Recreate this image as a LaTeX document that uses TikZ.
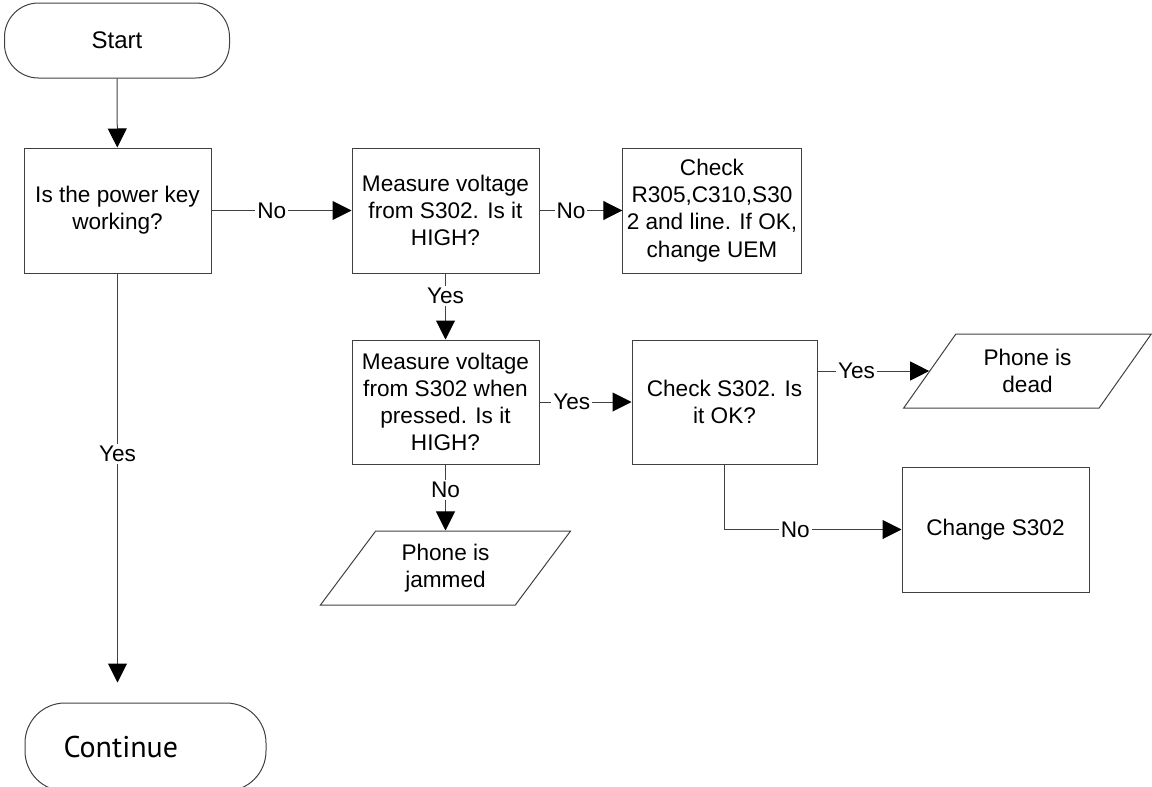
\documentclass[tikz,border=0pt]{standalone}
\usepackage{fontspec}
\setmainfont{Liberation Sans}
\newfontfamily\endfont{PT Sans}
\usetikzlibrary{arrows.meta}
\usetikzlibrary{shapes.geometric}

\tikzset{
    box/.style={
        rectangle, align=center, inner sep=2pt,
        minimum width=93.5pt, minimum height=62.5pt,
        draw=black!75, line width=0.5pt,
        font=\fontsize{11.3}{13.6}\selectfont,
    },
    terminal/.style={
        rectangle, rounded corners=17pt,
        minimum width=112.5pt, minimum height=37.5pt,
        draw=black!75, line width=0.5pt,
        font=\fontsize{12}{14}\selectfont,
    },
    io/.style={
        trapezium, trapezium left angle=56, trapezium right angle=124,
        trapezium stretches=true, align=center, inner sep=2pt,
        minimum height=37pt,
        draw=black!75, line width=0.5pt,
        font=\fontsize{11.3}{13.6}\selectfont,
    },
    arr/.style={
        draw=black!75, line width=0.5pt,
        -{Triangle[length=9.5pt, width=9.5pt, black]},
    },
    lbl/.style={
        fill=white, inner sep=1pt,
        font=\fontsize{11.3}{13.6}\selectfont,
    },
}

\begin{document}
\begin{tikzpicture}[x=0.5pt, y=-0.5pt]
    \useasboundingbox (0,0) rectangle (1152,787);

    \node (start) at(117,40.5) [terminal] {Start};
    \node (q1) at(117.5,210.5) [box] {Is the power key\\working?};
    \node (meas1) at(445.5,210.5) [box] {Measure voltage\\from S302. Is it\\HIGH?};
    \node (chk1) at(712,210.5) [box, minimum width=80pt] {Check\\R305,C310,S30\\2 and line. If OK,\\change UEM};
    \node (meas2) at(445.5,402) [box, minimum height=62pt] {Measure voltage\\from S302 when\\pressed. Is it\\HIGH?};
    \node (chk2) at(724.5,402) [box, minimum width=92.5pt, minimum height=62pt] {Check S302. Is\\it OK?};
    \node (dead) at(1027.5,371) [io, minimum width=124.5pt] {Phone is\\dead};
    \node (chg) at(995.5,529.5) [box] {Change S302};
    \node (jammed) at(445.5,568) [io, minimum width=125.5pt] {Phone is\\jammed};

    % end terminal is cut by the page edge
    \node (cont) at(145.5,747) [
        terminal, rounded corners=20pt,
        minimum width=120.5pt, minimum height=44pt,
        text width=82pt, align=left,
        font=\endfont\fontsize{15}{18}\selectfont,
    ] {Continue};

    \draw [arr] (start) -- (q1);
    \draw [arr] (q1) -- node[lbl, pos=0.43] {No} (meas1);
    \draw [arr] (meas1) -- node[lbl, pos=0.38] {No} (chk1);
    \draw [arr] (meas1) -- node[lbl, pos=0.34] {Yes} (meas2);
    \draw [arr] (meas2) -- node[lbl, pos=0.35] {Yes} (chk2);
    \draw [arr] (meas2) -- node[lbl, pos=0.39] {No} (jammed);
    \draw [arr] (chk2.east |- dead.west) -- node[lbl, pos=0.35] {Yes} (dead.west);
    \draw [arr] (chk2.south) |- node[lbl, pos=0.70] {No} (chg.west);
    \draw [arr, shorten >=10pt] (q1.south) -- node[lbl, pos=0.42] {Yes} (q1.south |- cont.north);
\end{tikzpicture}
\end{document}
